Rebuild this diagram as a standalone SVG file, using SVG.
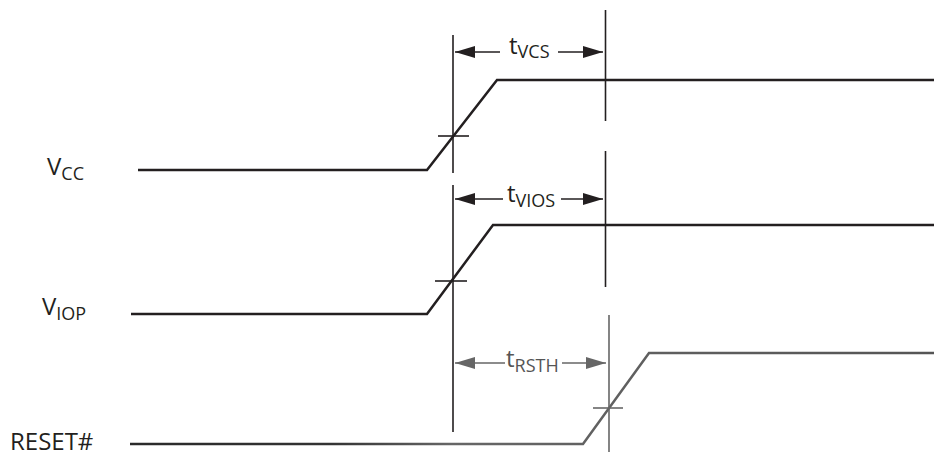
<svg xmlns="http://www.w3.org/2000/svg" width="934" height="458" viewBox="0 0 934 458">
<style>
.sig{fill:none;stroke:#231f20;stroke-width:2.5;stroke-linejoin:miter}
.ref{fill:none;stroke:#231f20;stroke-width:1.6}
.dim{fill:none;stroke:#231f20;stroke-width:1.4}
.lbl{font-family:"Open Sans","Liberation Sans",sans-serif;font-size:24px;fill:#231f20}
.sub{font-size:18px}
.grey{stroke:#666}
.greyt{fill:#555}
</style>
<defs>
<marker id="ah" viewBox="0 0 20 12" refX="20" refY="6" markerWidth="20" markerHeight="12" markerUnits="userSpaceOnUse" orient="auto">
<path d="M0,0 L20,6 L0,12 Z" fill="#231f20"/>
</marker>
<marker id="ahg" viewBox="0 0 20 12" refX="20" refY="6" markerWidth="20" markerHeight="12" markerUnits="userSpaceOnUse" orient="auto">
<path d="M0,0 L20,6 L0,12 Z" fill="#666"/>
</marker>
<linearGradient id="rg" gradientUnits="userSpaceOnUse" x1="130" y1="0" x2="934" y2="0">
<stop offset="0" stop-color="#2a2a2a"/>
<stop offset="0.25" stop-color="#333"/>
<stop offset="0.4" stop-color="#666"/>
<stop offset="1" stop-color="#555"/>
</linearGradient>
</defs>

<g id="labels">
<text class="lbl" x="47" y="175">V<tspan class="sub" dy="5">CC</tspan></text>
<text class="lbl" x="42" y="315">V<tspan class="sub" dy="5">IOP</tspan></text>
<text class="lbl" x="10" y="450">RESET#</text>
</g>

<g id="vcc">
<polyline class="sig" points="138,170 427,170 497,80 934,80"/>
<line class="ref" x1="438" y1="136" x2="469" y2="136"/>
</g>

<g id="viop">
<polyline class="sig" points="131,314 427,314 493,225 934,225"/>
<line class="ref" x1="435" y1="281" x2="467" y2="281"/>
</g>

<g id="reset">
<polyline class="sig" style="stroke:url(#rg)" points="130,444 583,444 649,353 934,353"/>
<line class="ref grey" x1="593" y1="408" x2="623" y2="408"/>
</g>

<g id="refs">
<line class="ref" x1="453" y1="35" x2="453" y2="173"/>
<line class="ref" x1="453" y1="185" x2="453" y2="432"/>
<line class="ref" x1="605.5" y1="10" x2="605.5" y2="121"/>
<line class="ref" x1="605.5" y1="151" x2="605.5" y2="287"/>
<line class="ref grey" x1="609" y1="315" x2="609" y2="452"/>
</g>

<g id="tvcs">
<line class="dim" x1="500" y1="52" x2="455" y2="52" marker-end="url(#ah)"/>
<line class="dim" x1="558" y1="52" x2="603" y2="52" marker-end="url(#ah)"/>
<text class="lbl" x="509" y="54">t<tspan class="sub" dy="4">VCS</tspan></text>
</g>

<g id="tvios">
<line class="dim" x1="503" y1="199" x2="455" y2="199" marker-end="url(#ah)"/>
<line class="dim" x1="561" y1="199" x2="603" y2="199" marker-end="url(#ah)"/>
<text class="lbl" x="507" y="202">t<tspan class="sub" dy="5">VIOS</tspan></text>
</g>

<g id="trsth">
<line class="dim grey" x1="505" y1="363" x2="455" y2="363" marker-end="url(#ahg)"/>
<line class="dim grey" x1="562" y1="363" x2="606" y2="363" marker-end="url(#ahg)"/>
<text class="lbl greyt" x="506" y="367">t<tspan class="sub" dy="5">RSTH</tspan></text>
</g>
</svg>
